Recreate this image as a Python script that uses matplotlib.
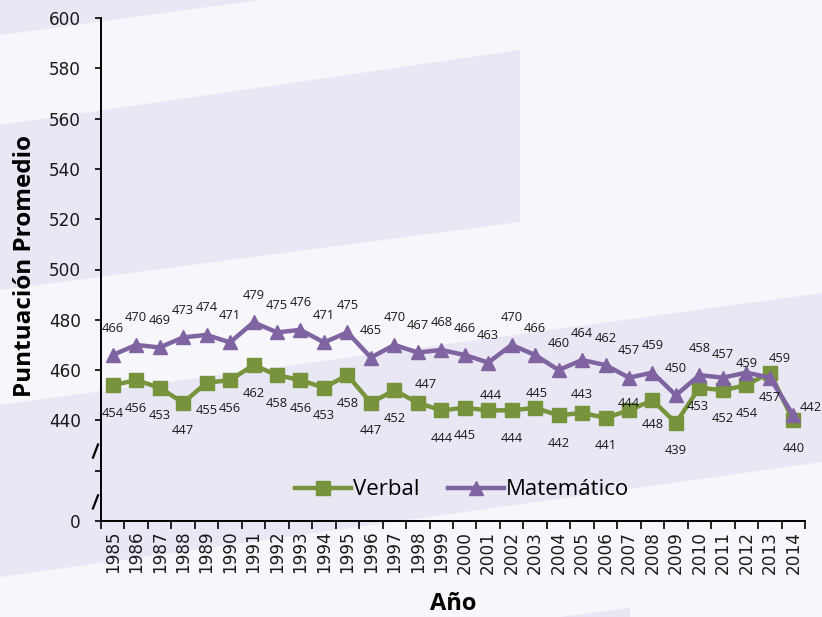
import matplotlib.pyplot as plt
import matplotlib.transforms as mtransforms
from matplotlib.patches import Polygon

plt.rcParams['font.family'] = ['Open Sans', 'DejaVu Sans']

# data
years = [str(y) for y in range(1985, 2015)]
verbal = [454, 456, 453, 447, 455, 456, 462, 458, 456, 453, 458, 447, 452, 447, 444,
          445, 444, 444, 445, 442, 443, 441, 444, 448, 439, 453, 452, 454, 459, 440]
matematico = [466, 470, 469, 473, 474, 471, 479, 475, 476, 471, 475, 465, 470, 467, 468,
              466, 463, 470, 466, 460, 464, 462, 457, 459, 450, 458, 457, 459, 457, 442]

# label placement (pixel offsets), exceptions to the default above/below
verbal_off = {'1998': (8, 18), '2001': (3, 15), '2003': (2, 14), '2005': (0, 18),
              '2007': (0, 7), '2008': (0, -24), '2010': (-2, -19), '2013': (10, 14)}
mate_off = {'2011': (0, 23), '2012': (0, 9), '2013': (0, -20), '2014': (17, 8)}

green = '#77933c'
purple = '#8064a2'
bg = '#f6f6fb'
band = '#e8e7f3'
tick_font = dict(fontfamily='DejaVu Sans', fontsize=12.2, color='#1a1a1a')

W, H = 822, 617
fig = plt.figure(figsize=(W / 100, H / 100), dpi=100, facecolor=bg)

# decorative background bands (pixel coords)
bands = [
    [(0, 0), (260, 0), (0, 35)],
    [(0, 125), (520, 50), (520, 222), (0, 290)],
    [(0, 405), (822, 293), (822, 462), (0, 577)],
    [(560, 617), (630, 608), (630, 617)],
]
for b in bands:
    pts = [(x / W, 1 - y / H) for x, y in b]
    fig.patches.append(Polygon(pts, closed=True, transform=fig.transFigure,
                               facecolor=band, edgecolor='none', zorder=-10))

ax = fig.add_axes([101 / W, 1 - 521 / H, (805 - 101) / W, (521 - 18) / H])
ax.set_facecolor('none')

x = list(range(len(years)))
ax.plot(x, verbal, color=green, lw=3.2, marker='s', ms=9.5, mfc=green, mec=green,
        label='Verbal', zorder=3)
ax.plot(x, matematico, color=purple, lw=3.2, marker='^', ms=10, mfc=purple, mec=purple,
        label='Matemático', zorder=3)

for i, yr in enumerate(years):
    dx, dy = verbal_off.get(yr, (0, -28))
    ax.annotate(str(verbal[i]), (i, verbal[i]), xytext=(dx, dy), textcoords='offset pixels',
                ha='center', va='center', fontsize=9.3, color='#1a1a1a',
                annotation_clip=False, zorder=5)
    dx, dy = mate_off.get(yr, (0, 27))
    ax.annotate(str(matematico[i]), (i, matematico[i]), xytext=(dx, dy), textcoords='offset pixels',
                ha='center', va='center', fontsize=9.3, color='#1a1a1a',
                annotation_clip=False, zorder=5)

# axes, with a broken y axis: 400 is shown as 0
ax.set_xlim(-0.5, len(years) - 0.5)
ax.set_ylim(400, 600)
yt = list(range(400, 601, 20))
ax.set_yticks(yt)
ax.set_yticklabels(['0', ''] + [str(v) for v in yt[2:]], **tick_font)
ax.set_xticks([i - 0.5 for i in range(len(years) + 1)])
ax.set_xticklabels([])
ax.set_xticks(x, minor=True)
ax.set_xticklabels(years, minor=True, rotation=90, **tick_font)
ax.tick_params(axis='x', which='major', length=5.5, width=1.2, direction='out')
ax.tick_params(axis='x', which='minor', length=0, pad=7)
ax.tick_params(axis='y', length=4.5, width=1.2, pad=10)

for s in ['top', 'right']:
    ax.spines[s].set_visible(False)
for s in ['left', 'bottom']:
    ax.spines[s].set_linewidth(1.4)

# break marks
trans = mtransforms.blended_transform_factory(ax.transAxes, ax.transData)
for yc in [427.8, 407.6]:
    ax.plot([-0.0114, -0.0043], [yc - 2.6, yc + 2.6], color='black', lw=1.6,
            transform=trans, clip_on=False)

ax.legend(loc='center', bbox_to_anchor=(0.513, 0.062), ncol=2, frameon=False,
          fontsize=16, handlelength=2.5, handletextpad=0.1, columnspacing=1.3)

fig.text(25 / W, 1 - 266 / H, 'Puntuación Promedio', rotation=90, ha='center', va='center',
         fontsize=17.5, fontweight='bold')
fig.text(453 / W, 1 - 604 / H, 'Año', ha='center', va='center', fontsize=17, fontweight='bold')

fig.savefig('out.png', dpi=100, facecolor=bg)
